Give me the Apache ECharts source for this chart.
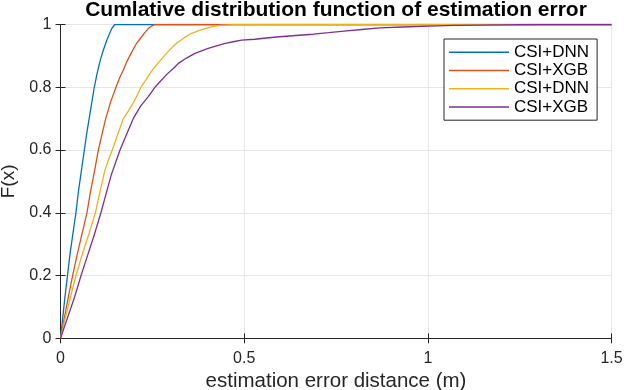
<!DOCTYPE html>
<html><head><meta charset="utf-8">
<script src="https://cdn.jsdelivr.net/npm/echarts@6/dist/echarts.min.js"></script>
<style>html,body{margin:0;padding:0;background:#fff}#c{width:626px;height:390px}</style>
</head><body><div id="c"></div>
<script>
var titleText = 'Cumlative distribution function of estimation error';
var xLabel = 'estimation error distance (m)';
var yLabel = 'F(x)';
var seriesNames = ['CSI+DNN', 'CSI+XGB', 'CSI+DNN ', 'CSI+XGB '];
var xTicks = [0, 0.5, 1, 1.5];
var yTicks = [0, 0.2, 0.4, 0.6, 0.8, 1];

var dnn1X = [0, 0.006, 0.012, 0.019, 0.026, 0.034, 0.042, 0.049, 0.057, 0.065, 0.071, 0.078, 0.085, 0.092, 0.099, 0.106, 0.113, 0.120, 0.126, 0.133, 0.140, 0.148, 1.5];
var dnn1Y = [0, 0.065, 0.13, 0.2, 0.27, 0.335, 0.4, 0.47, 0.535, 0.6, 0.65, 0.7, 0.75, 0.8, 0.84, 0.876, 0.905, 0.93, 0.95, 0.97, 0.988, 1, 1];

var xgb1X = [0, 0.011, 0.022, 0.033, 0.046, 0.059, 0.072, 0.082, 0.093, 0.103, 0.113, 0.123, 0.137, 0.151, 0.161, 0.171, 0.182, 0.192, 0.206, 0.221, 0.230, 0.239, 0.248, 0.257, 1.5];
var xgb1Y = [0, 0.068, 0.135, 0.2, 0.27, 0.335, 0.4, 0.47, 0.535, 0.6, 0.65, 0.7, 0.755, 0.8, 0.83, 0.855, 0.885, 0.908, 0.938, 0.961, 0.975, 0.987, 0.995, 1, 1];

var dnn2X = [0, 0.014, 0.028, 0.042, 0.06, 0.078, 0.095, 0.108, 0.121, 0.131, 0.141, 0.156, 0.171, 0.185, 0.198, 0.209, 0.219, 0.232, 0.244, 0.262, 0.280, 0.298, 0.316, 0.337, 0.357, 0.375, 0.393, 0.414, 0.434, 0.46, 0.484, 1.5];
var dnn2Y = [0, 0.07, 0.135, 0.2, 0.27, 0.335, 0.4, 0.47, 0.536, 0.57, 0.6, 0.65, 0.7, 0.725, 0.75, 0.775, 0.8, 0.823, 0.845, 0.872, 0.897, 0.92, 0.94, 0.958, 0.972, 0.98, 0.987, 0.993, 0.997, 0.999, 1, 1];

var xgb2X = [0, 0.019, 0.038, 0.056, 0.074, 0.092, 0.11, 0.124, 0.138, 0.15, 0.162, 0.18, 0.198, 0.218, 0.239, 0.257, 0.275, 0.293, 0.307, 0.321, 0.343, 0.366, 0.384, 0.402, 0.425, 0.448, 0.47, 0.493, 0.529, 0.56, 0.597, 0.64, 0.688, 0.73, 0.779, 0.82, 0.869, 0.93, 1.005, 1.07, 1.14, 1.2, 1.3, 1.5];
var xgb2Y = [0, 0.065, 0.13, 0.2, 0.265, 0.33, 0.4, 0.46, 0.52, 0.56, 0.6, 0.65, 0.7, 0.74, 0.77, 0.8, 0.823, 0.845, 0.86, 0.876, 0.893, 0.908, 0.916, 0.924, 0.932, 0.94, 0.945, 0.95, 0.953, 0.957, 0.961, 0.965, 0.969, 0.974, 0.98, 0.984, 0.989, 0.992, 0.995, 0.997, 0.998, 0.999, 1, 1];

var colors = ['#0072BD', '#D95319', '#EDB120', '#7E2F8E'];
var xs = [dnn1X, xgb1X, dnn2X, xgb2X];
var ys = [dnn1Y, xgb1Y, dnn2Y, xgb2Y];

function pairs(x, y) { return x.map(function (v, i) { return [v, y[i]]; }); }

var FONT = 'Liberation Sans';
var AX = '#262626';

var series = seriesNames.map(function (n, i) {
  return {
    name: n, type: 'line', data: pairs(xs[i], ys[i]), symbol: 'none',
    lineStyle: { width: 1.3, color: colors[i] }, itemStyle: { color: colors[i] },
    xAxisIndex: 0, yAxisIndex: 0, animation: false
  };
});

function tickFmt(list) {
  return function (v) {
    var t = list.filter(function (k) { return Math.abs(k - v) < 1e-9; });
    return t.length ? String(t[0]) : '';
  };
}

var chart = echarts.init(document.getElementById('c'), null, { renderer: 'canvas' });
chart.setOption({
  animation: false,
  backgroundColor: '#fff',
  graphic: [{
    type: 'text', x: 336, y: 10.5, silent: true,
    style: { text: titleText, textAlign: 'center', textVerticalAlign: 'middle',
      fontFamily: FONT, fontSize: 21, fontWeight: 'bold', fill: '#000' }
  }],
  grid: { left: 60.5, right: 14.5, top: 24.5, bottom: 51.7, outerBoundsMode: 'none', containLabel: false },
  legend: {
    data: seriesNames.map(function (n) { return { name: n }; }),
    formatter: function (n) { return n.trim(); },
    orient: 'vertical', left: 444, top: 39,
    icon: 'rect', itemWidth: 60, itemHeight: 1.5, itemGap: 0,
    padding: [4, 8, 4, 5],
    borderColor: AX, borderWidth: 1, backgroundColor: '#fff',
    textStyle: { fontFamily: FONT, fontSize: 17, lineHeight: 18.3, color: '#000' },
    selectedMode: false
  },
  xAxis: [
    {
      type: 'value', min: 0, max: 1.5, interval: 0.5,
      name: xLabel, nameLocation: 'middle', nameGap: 33,
      nameTextStyle: { fontFamily: FONT, fontSize: 20.5, color: AX },
      axisLine: { show: true, lineStyle: { color: AX, width: 1 } },
      axisTick: { show: true, inside: true, length: 5, lineStyle: { color: AX } },
      axisLabel: { fontFamily: FONT, fontSize: 16, color: AX, margin: 12, formatter: tickFmt(xTicks) },
      splitLine: { show: true, lineStyle: { color: '#e6e6e6', width: 1 } }
    },
    {
      type: 'value', position: 'top', min: 0, max: 1.5, interval: 0.5,
      axisLine: { show: true, lineStyle: { color: AX, width: 1 } },
      axisTick: { show: true, inside: true, length: 5, lineStyle: { color: AX } },
      axisLabel: { show: false }, splitLine: { show: false }
    }
  ],
  yAxis: [
    {
      type: 'value', min: 0, max: 1, interval: 0.2,
      name: yLabel, nameLocation: 'middle', nameGap: 41, nameRotate: 90,
      nameTextStyle: { fontFamily: FONT, fontSize: 19, color: AX },
      axisLine: { show: true, lineStyle: { color: AX, width: 1 } },
      axisTick: { show: true, inside: true, length: 5, lineStyle: { color: AX } },
      axisLabel: { fontFamily: FONT, fontSize: 16, color: AX, margin: 9, formatter: tickFmt(yTicks) },
      splitLine: { show: true, lineStyle: { color: '#e6e6e6', width: 1 } }
    },
    {
      type: 'value', position: 'right', min: 0, max: 1, interval: 0.2,
      axisLine: { show: true, lineStyle: { color: AX, width: 1 } },
      axisTick: { show: true, inside: true, length: 5, lineStyle: { color: AX } },
      axisLabel: { show: false }, splitLine: { show: false }
    }
  ],
  series: series
});
</script></body></html>
